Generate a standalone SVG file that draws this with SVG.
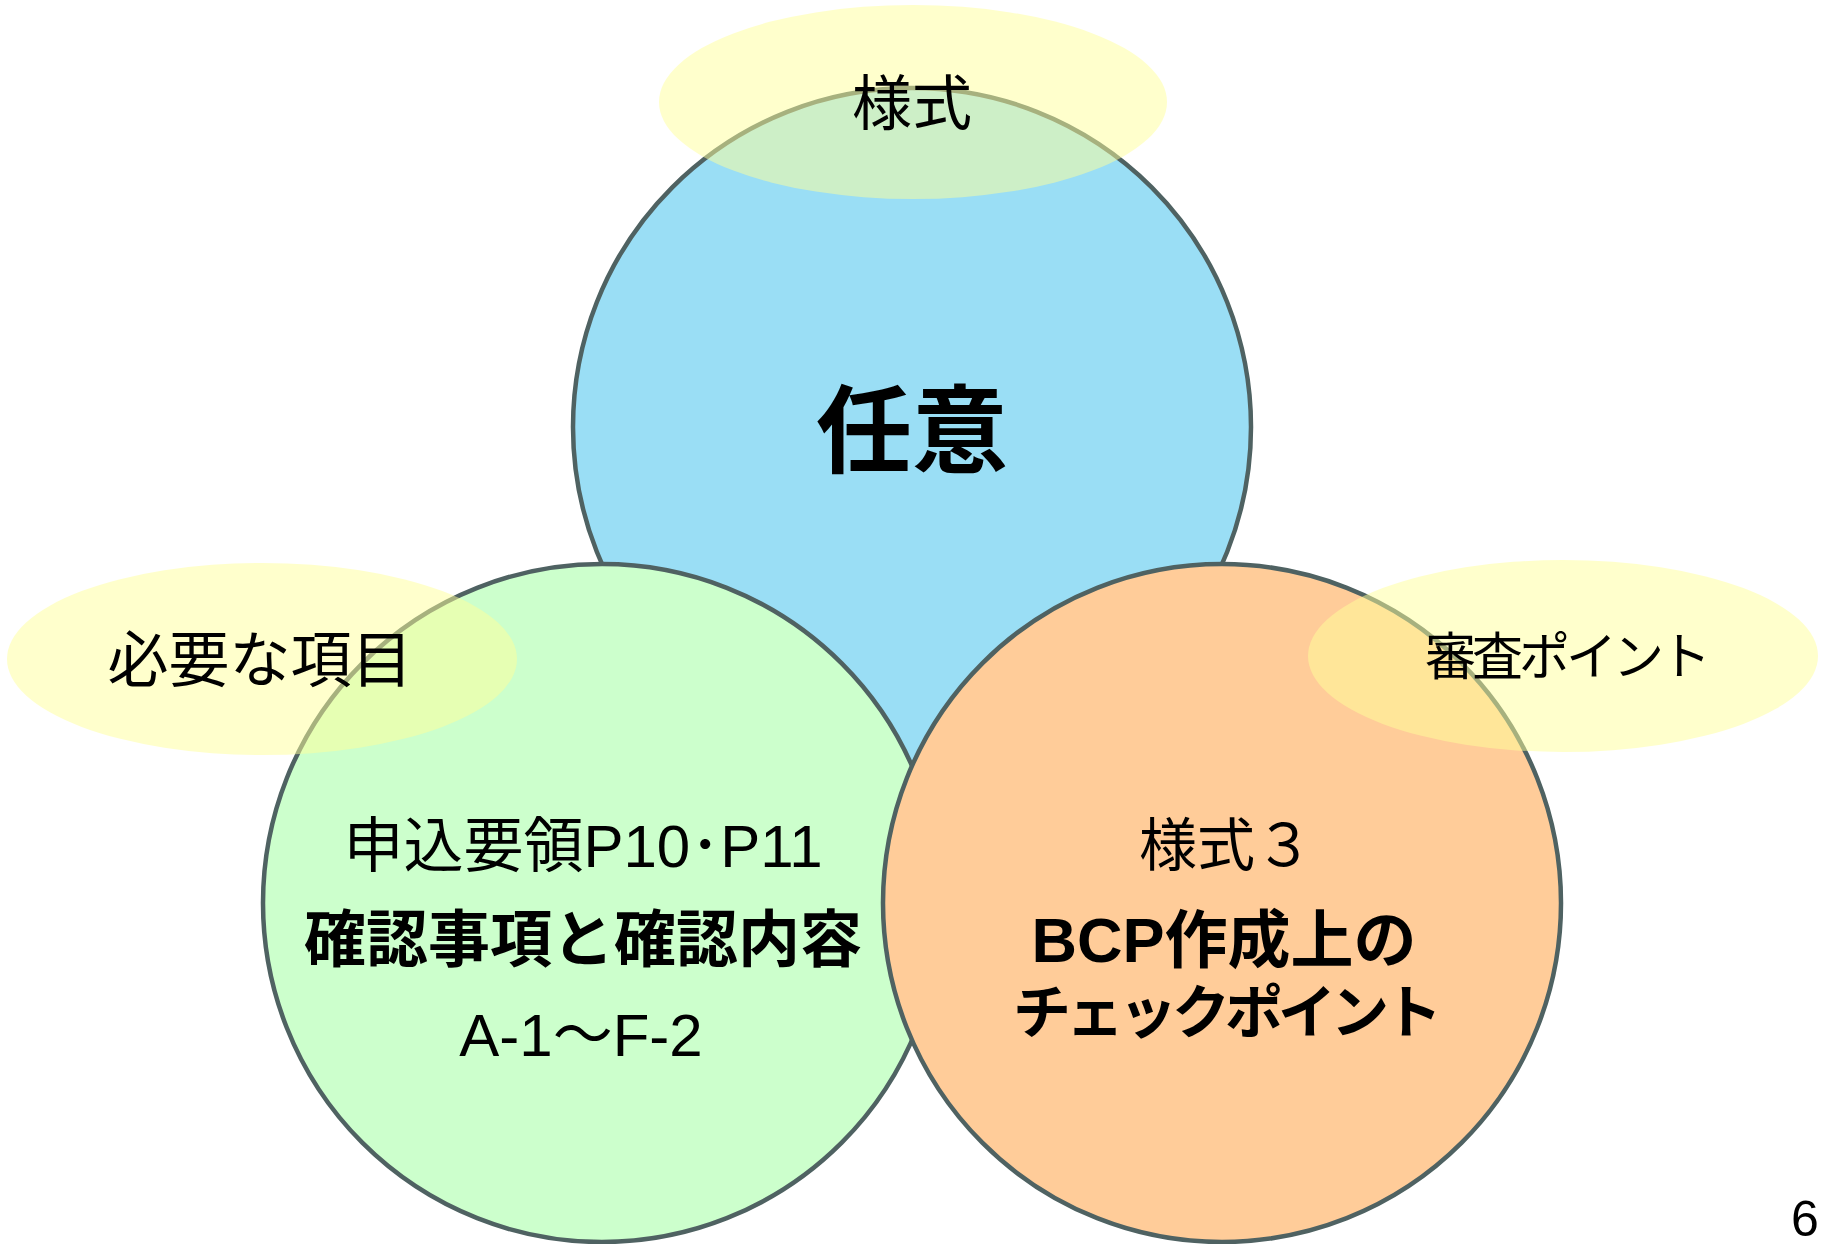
<svg xmlns="http://www.w3.org/2000/svg" width="1825" height="1244" viewBox="0 0 1825 1244">
  <style>
    .circ { stroke: #4F6262; stroke-width: 4.5; }
    .oval { fill: #FFFF99; fill-opacity: 0.5; stroke: none; }
    .t { font-family: 'Liberation Sans', 'Noto Sans CJK JP', sans-serif; fill: #000; text-anchor: middle; dominant-baseline: central; }
    .b { font-weight: bold; }
  </style>
  <rect width="1825" height="1244" fill="#FFFFFF"/>
  <g id="circle-nini">
    <circle class="circ" cx="912" cy="427" r="339" fill="#9ADEF5"/>
    <text class="t b" x="912" y="431" font-size="96">任意</text>
  </g>
  <g id="circle-kakunin">
    <circle class="circ" cx="602" cy="903" r="339" fill="#CCFFCC"/>
    <text class="t" x="583" y="846" font-size="60">申込要領P10･P11</text>
    <text class="t b" x="583" y="940" font-size="62">確認事項と確認内容</text>
    <text class="t" x="581" y="1035" font-size="60">A-1～F-2</text>
  </g>
  <g id="circle-bcp">
    <circle class="circ" cx="1222" cy="903" r="339" fill="#FFCC99"/>
    <text class="t" x="1226" y="845" font-size="58">様式３</text>
    <text class="t b" x="1224" y="940" font-size="63">BCP作成上の</text>
    <text class="t b" x="1225" y="1012" font-size="58" letter-spacing="-5">チェックポイント</text>
  </g>
  <g id="label-yoshiki">
    <ellipse class="oval" cx="913" cy="102" rx="254" ry="97"/>
    <text class="t" x="912" y="104" font-size="60">様式</text>
  </g>
  <g id="label-hitsuyou">
    <ellipse class="oval" cx="262" cy="659" rx="255" ry="96"/>
    <text class="t" x="260" y="661" font-size="61">必要な項目</text>
  </g>
  <g id="label-shinsa">
    <ellipse class="oval" cx="1563" cy="656" rx="255" ry="96"/>
    <text class="t" x="1566" y="657" font-size="51" letter-spacing="-4">審査ポイント</text>
  </g>
  <g id="connectors"/>
  <g id="page-number">
    <text x="1791" y="1236" font-size="50" font-family="'Liberation Sans', sans-serif" fill="#000">6</text>
  </g>
</svg>
